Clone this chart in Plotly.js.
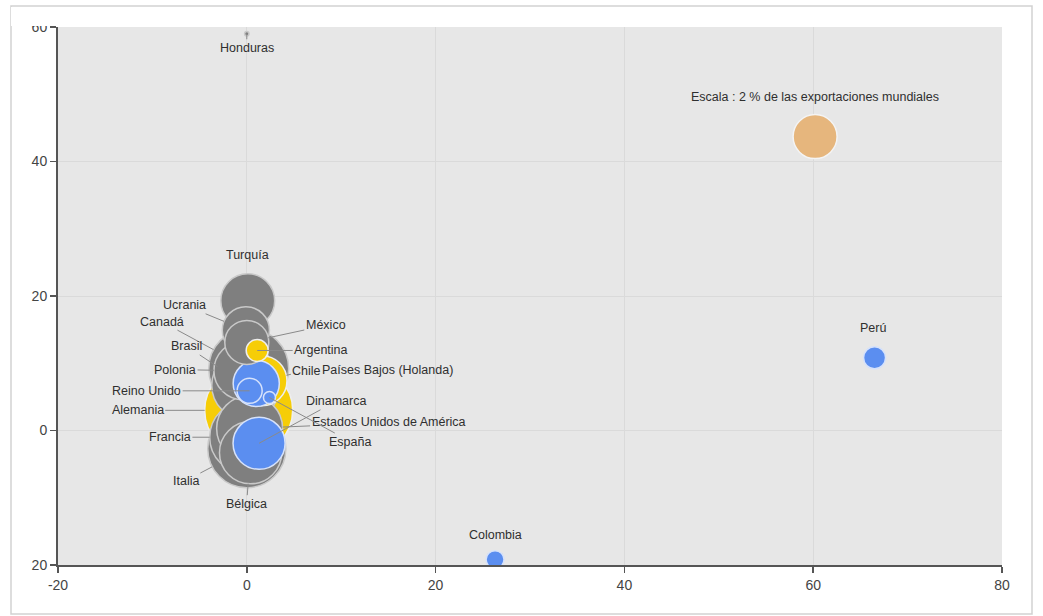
<!DOCTYPE html>
<html>
<head>
<meta charset="utf-8">
<script src="https://cdn.plot.ly/plotly-3.0.1.min.js"></script>
<style>
  html, body { margin: 0; padding: 0; background: #ffffff; }
  #chart { width: 1043px; height: 616px; }
</style>
</head>
<body>
<div id="chart"></div>
<script>
// ---- data ----
const paises = ['Alemania', 'Canadá', 'Italia', 'Francia', 'Brasil', 'Estados Unidos de América',
  'Bélgica', 'Polonia', 'Turquía', 'Dinamarca', 'Chile', 'Ucrania', 'Países Bajos (Holanda)',
  'México', 'Escala : 2 % de las exportaciones mundiales', 'Reino Unido', 'Argentina', 'Perú',
  'Colombia', 'España', 'Honduras'];
const valoresX = [0.2, 0.2, 0.0, -0.1, -0.1, 0.3, 0.4, -0.4, 0.1, 1.3, 1.6, -0.1, 1.0,
  0.0, 60.2, 0.3, 1.1, 66.5, 26.3, 2.4, 0.0];
const valoresY = [3.0, 9.2, -2.7, -1.0, 6.7, 0.3, -3.3, 8.9, 19.3, -1.9, 7.4, 14.9, 7.0,
  13.1, 43.7, 5.9, 11.9, 10.8, -19.2, 4.9, 59.0];
// share of world exports (%), gives bubble area
const cuota = [8.0, 6.6, 6.3, 5.4, 4.8, 4.5, 4.0, 3.5, 3.0, 2.8, 2.6, 2.3, 2.2,
  2.0, 2.0, 0.65, 0.5, 0.5, 0.33, 0.15, 0.02];
const grupo = ['amarillo', 'gris', 'gris', 'gris', 'gris', 'gris', 'gris', 'gris', 'gris', 'azul',
  'amarillo', 'gris', 'azul', 'gris', 'escala', 'azul', 'amarillo', 'azul', 'azul', 'azul', 'gris'];
const ticksX = [-20, 0, 20, 40, 60, 80];
const ticksY = [-20, 0, 20, 40, 60];
const textoTicksY = ['20', '0', '20', '40', '60'];

// ---- styling ----
const colores = { gris: '#7f7f7f', amarillo: '#f6cd07', azul: '#5b8ef0', escala: '#e6b67d' };
const bordes = { gris: '#c9c9c9', amarillo: '#eeeeee', azul: '#d6e2fb', escala: '#f4f4f4' };
const diametroEscala = 44;   // px for 2 %
const diam = cuota.map(c => diametroEscala * Math.sqrt(c / 2));

// label placement (pixel offsets of label from bubble centre)
const etiquetas = {
  'Alemania': { ax: -111, ay: 0 },
  'Canadá': { ax: -87, ay: -47 },
  'Italia': { ax: -61, ay: 32 },
  'Francia': { ax: -76, ay: 0 },
  'Brasil': { ax: -59, ay: -39 },
  'Estados Unidos de América': { ax: 139, ay: -6 },
  'Bélgica': { ax: -4, ay: 51 },
  'Polonia': { ax: -68, ay: -1 },
  'Turquía': { ax: 0, ay: -46, linea: false },
  'Dinamarca': { ax: 77, ay: -42, centro: true },
  'Chile': { ax: 45, ay: -10 },
  'Ucrania': { ax: -61, ay: -25 },
  'Países Bajos (Holanda)': { ax: 131, ay: -13, linea: false },
  'México': { ax: 79, ay: -17 },
  'Escala : 2 % de las exportaciones mundiales': { ax: 0, ay: -40, linea: false },
  'Reino Unido': { ax: -103, ay: 0, centro: true },
  'Argentina': { ax: 64, ay: 0, centro: true },
  'Perú': { ax: -2, ay: -30, linea: false },
  'Colombia': { ax: 0, ay: -25, linea: false },
  'España': { ax: 81, ay: 44, centro: true },
  'Honduras': { ax: 0, ay: 14, centro: true }
};

const fuente = { family: 'Liberation Sans, Arial, sans-serif', size: 12.5, color: '#2f2f2f' };

const anotaciones = paises.map((p, i) => {
  const e = etiquetas[p];
  if (e.linea === false) {
    return { x: valoresX[i], y: valoresY[i], xref: 'x', yref: 'y', text: p, showarrow: false,
      xshift: e.ax, yshift: -e.ay, font: fuente };
  }
  return { x: valoresX[i], y: valoresY[i], xref: 'x', yref: 'y', text: p, showarrow: true,
    ax: e.ax, ay: e.ay, arrowhead: 0, arrowwidth: 1, arrowcolor: '#8a8a8a',
    standoff: e.centro ? 0 : diam[i] / 2, font: fuente };
});

const traza = {
  type: 'scatter', mode: 'markers',
  x: valoresX, y: valoresY, text: paises,
  marker: {
    size: diam, sizemode: 'diameter',
    color: grupo.map(g => colores[g]),
    opacity: 1,
    line: { color: grupo.map(g => bordes[g]), width: 1.5 }
  },
  hoverinfo: 'text', showlegend: false
};

const W = 944, H = 538;
const layout = {
  width: 1043, height: 616,
  margin: { l: 58, r: 41, t: 27, b: 51 },
  paper_bgcolor: '#ffffff',
  plot_bgcolor: '#e7e7e7',
  showlegend: false,
  xaxis: {
    range: [-20, 80], tickvals: ticksX, ticktext: ticksX.map(String),
    showgrid: true, gridcolor: '#dadada', gridwidth: 1, zeroline: false,
    showline: true, linecolor: '#555555', linewidth: 2,
    ticks: 'outside', ticklen: 6, tickwidth: 1.5, tickcolor: '#555555',
    tickfont: { family: 'Liberation Sans, Arial, sans-serif', size: 14, color: '#444444' },
    fixedrange: true
  },
  yaxis: {
    range: [-20, 60], tickvals: ticksY, ticktext: textoTicksY,
    showgrid: true, gridcolor: '#dadada', gridwidth: 1, zeroline: false,
    showline: true, linecolor: '#555555', linewidth: 2,
    ticks: 'outside', ticklen: 6, tickwidth: 1.5, tickcolor: '#555555',
    tickfont: { family: 'Liberation Sans, Arial, sans-serif', size: 14, color: '#444444' },
    fixedrange: true
  },
  annotations: anotaciones,
  shapes: [
    // white band clipping the top of the chart (cuts the "60" label)
    { type: 'rect', xref: 'paper', yref: 'paper', layer: 'above',
      x0: -47 / W, x1: 1.03, y0: (H + 1) / H, y1: (H + 20) / H,
      fillcolor: '#ffffff', line: { width: 0 } },
    // outer frame
    { type: 'rect', xref: 'paper', yref: 'paper', layer: 'below',
      x0: -47 / W, x1: (1032 - 58) / W, y0: (565 - 614) / H, y1: (565 - 6) / H,
      fillcolor: 'rgba(0,0,0,0)', line: { color: '#d2d2d2', width: 1.5 } }
  ],
  hovermode: false
};

Plotly.newPlot('chart', [traza], layout, { displayModeBar: false, staticPlot: true });
</script>
</body>
</html>
